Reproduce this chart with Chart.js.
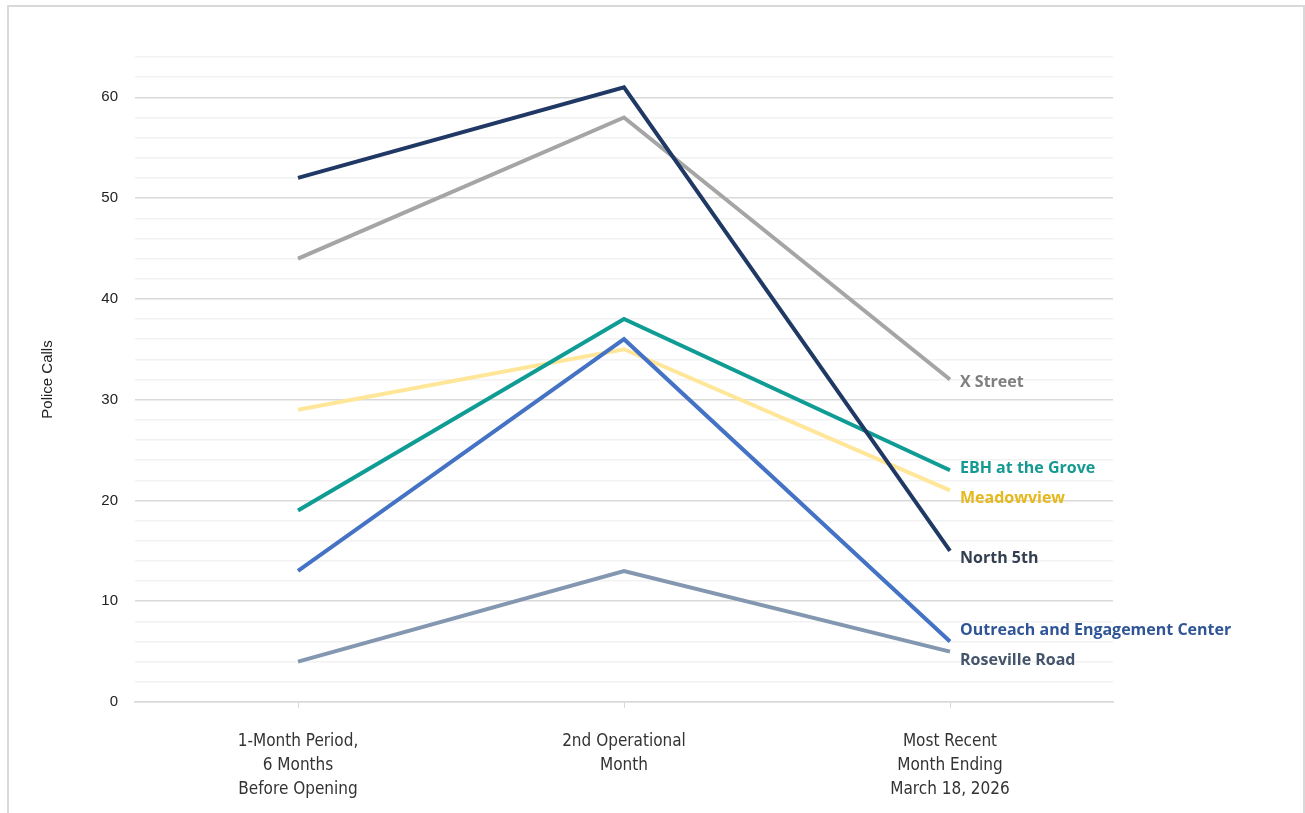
<!DOCTYPE html>
<html>
<head>
<meta charset="utf-8">
<script src="https://cdn.jsdelivr.net/npm/chart.js@4.4.1/dist/chart.umd.min.js"></script>
<style>
  html, body { margin: 0; padding: 0; background: #fff; overflow: hidden; }
  #frame { position: absolute; left: 7px; top: 5px; width: 1294px; height: 830px; border: 2px solid #d9d9d9; }
  #wrap { position: absolute; left: 0; top: 0; width: 1305px; height: 813px; }
</style>
</head>
<body>
<div id="frame"></div>
<div id="wrap"><canvas id="callsChart" width="1305" height="813"></canvas></div>
<script>
const periods = [
  ["1-Month Period,", "6 Months", "Before Opening"],
  ["2nd Operational", "Month"],
  ["Most Recent", "Month Ending", "March 18, 2026"]
];

const siteNames = ["North 5th", "X Street", "EBH at the Grove", "Outreach and Engagement Center", "Meadowview", "Roseville Road"];

const north5th = [52, 61, 15];
const xStreet = [44, 58, 32];
const ebhGrove = [19, 38, 23];
const outreach = [13, 36, 6];
const meadowview = [29, 35, 21];
const roseville = [4, 13, 5];

const lineColors = ['#203864', '#a5a5a5', '#0f9c94', '#4472c4', '#ffe699', '#8497b0'];
const labelColors = ['#333f50', '#7f7f7f', '#159a91', '#2f5597', '#e5b81e', '#44546a'];
// nudges so the end labels don't collide
const labelShift = [8, 3, -2, -11, 8, 9];

const seriesValues = [north5th, xStreet, ebhGrove, outreach, meadowview, roseville];

const endLabels = {
  id: 'endLabels',
  afterDatasetsDraw(chart) {
    const ctx = chart.ctx;
    ctx.save();
    ctx.font = 'bold 16px "Open Sans", Lato, sans-serif';
    ctx.textBaseline = 'middle';
    ctx.textAlign = 'left';
    chart.data.datasets.forEach((ds, i) => {
      const meta = chart.getDatasetMeta(i);
      const pt = meta.data[meta.data.length - 1];
      ctx.fillStyle = labelColors[i];
      ctx.fillText(ds.label, pt.x + 10, pt.y + labelShift[i]);
    });
    ctx.restore();
  }
};

const callsChart = new Chart(document.getElementById('callsChart'), {
  type: 'line',
  data: {
    labels: periods,
    datasets: siteNames.map((name, i) => ({
      label: name,
      data: seriesValues[i],
      borderColor: lineColors[i],
      borderWidth: 4,
      pointRadius: 0,
      tension: 0,
      fill: false
    }))
  },
  options: {
    responsive: false,
    animation: false,
    layout: { padding: { top: 57, right: 192, bottom: 0, left: 0 } },
    plugins: {
      legend: { display: false },
      tooltip: { enabled: false }
    },
    scales: {
      x: {
        offset: true,
        border: { display: true, color: '#d9d9d9', width: 1.5 },
        grid: {
          offset: false,
          drawOnChartArea: false,
          drawTicks: true,
          tickLength: 6,
          color: '#d9d9d9'
        },
        ticks: {
          color: '#333',
          padding: 22,
          maxRotation: 0,
          font: { family: '"Liberation Sans Narrow", "DejaVu Sans Condensed", sans-serif', size: 17, lineHeight: 1.41 }
        },
        afterFit(scale) { scale.height = 111; }
      },
      y: {
        min: 0,
        max: 64,
        border: { display: false },
        grid: {
          drawTicks: false,
          lineWidth: 1.5,
          color: (c) => (c.tick && c.tick.value % 10 === 0) ? '#d9d9d9' : '#f2f2f2'
        },
        ticks: {
          stepSize: 2,
          autoSkip: false,
          padding: 17,
          color: '#222',
          font: { family: '"Liberation Sans", Arial, sans-serif', size: 15 },
          callback: (v) => v % 10 === 0 ? v : ''
        },
        title: {
          display: true,
          text: 'Police Calls',
          color: '#222',
          padding: { top: 39, bottom: 0 },
          font: { family: '"Liberation Sans", Arial, sans-serif', size: 15 }
        },
        afterFit(scale) { scale.width = 135; }
      }
    }
  },
  plugins: [endLabels]
});
</script>
</body>
</html>
